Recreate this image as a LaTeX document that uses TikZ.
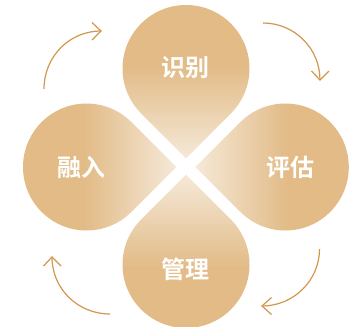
\documentclass[tikz,border=0pt]{standalone}
\usepackage{fontspec}
\setmainfont{Noto Sans CJK SC}[BoldFont={Noto Sans CJK SC Bold}]
\definecolor{petal}{HTML}{E2BB87}
\definecolor{petaltip}{HTML}{F5E9D8}
\definecolor{arrowc}{HTML}{D4954D}
\pgfdeclareverticalshading{petalv}{100bp}{color(0bp)=(petaltip);color(25bp)=(petaltip);color(54bp)=(petal);color(100bp)=(petal)}
\tikzset{
  petalshape/.style={shading=petalv,draw=none},
  petallabel/.style={text=white,inner sep=0pt,font=\fontsize{24bp}{24bp}\selectfont\bfseries},
  cyclearrow/.style={draw=arrowc,line width=1.2bp,line join=miter}
}
\begin{document}
\begin{tikzpicture}[x=1bp,y=-1bp]
\useasboundingbox (0,0) rectangle (360,327);
% petals
\shade[petalshape,shading angle=0] (186,158.3) -- (141.1,113.4) arc[start angle=225,end angle=-45,radius=63.5,y radius=-63.5] -- cycle;
\shade[petalshape,shading angle=180] (186,174.7) -- (141.1,219.6) arc[start angle=135,end angle=405,radius=63.5,y radius=-63.5] -- cycle;
\shade[petalshape,shading angle=90] (176.3,167) -- (131.4,122.1) arc[start angle=45,end angle=315,radius=63.5,y radius=-63.5] -- cycle;
\shade[petalshape,shading angle=270] (195.3,167) -- (240.4,122.1) arc[start angle=135,end angle=-135,radius=63.5,y radius=-63.5] -- cycle;
% labels
\node[petallabel] (shibie) at (185.5,68) {识别};
\node[petallabel] (ronru) at (81,167) {融入};
\node[petallabel] (pinggu) at (290.5,167) {评估};
\node[petallabel] (guanli) at (185,269) {管理};
% arrows
\draw[cyclearrow] (44,89) .. controls (44,57) and (69,31) .. (101,31);
\draw[cyclearrow] (92,22.5) -- (101,31) -- (92,40);
\draw[cyclearrow] (263,23) .. controls (294.5,23) and (320,48.5) .. (320,80);
\draw[cyclearrow] (311.5,71) -- (320,80) -- (329,71);
\draw[cyclearrow] (319.5,249) .. controls (319.5,280.5) and (293.5,306) .. (262,306);
\draw[cyclearrow] (271.5,297.5) -- (262,306) -- (271.5,314.5);
\draw[cyclearrow] (110,314) .. controls (78,314) and (52,289) .. (52,257);
\draw[cyclearrow] (43.5,266) -- (52,257) -- (61,266);
\end{tikzpicture}
\end{document}
